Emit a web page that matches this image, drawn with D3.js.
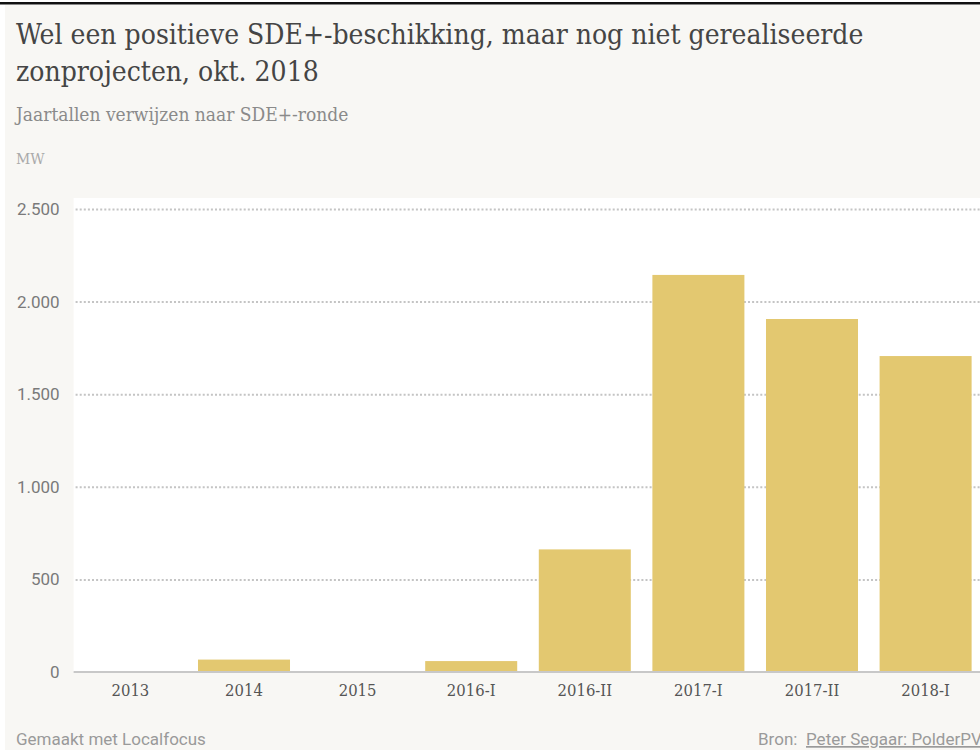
<!DOCTYPE html>
<html>
<head>
<meta charset="utf-8">
<script src="https://cdn.jsdelivr.net/npm/d3@7"></script>
<style>
    html, body { margin: 0; padding: 0; background: #fff; overflow: hidden; }
    svg { display: block; }
</style>
</head>
<body>
<div id="chart"></div>
<script>
// rondes en beschikt vermogen (MW)
var rondes = ["2013", "2014", "2015", "2016-I", "2016-II", "2017-I", "2017-II", "2018-I"];
var megawatt = [0, 67, 0, 59, 662, 2144, 1906, 1706];
var yTicks = [0, 500, 1000, 1500, 2000, 2500];

var width = 980, height = 750;
var serif = "'DejaVu Serif Condensed', 'DejaVu Serif', serif";
var sans = "Roboto, 'Noto Sans', sans-serif";

var nl = d3.formatLocale({ decimal: ",", thousands: ".", grouping: [3], currency: ["€", ""] });
var fmt = nl.format(",d");

var svg = d3.select("#chart").append("svg")
    .attr("width", width)
    .attr("height", height);

// achtergrond + zwarte rand bovenaan
svg.append("rect").attr("x", 0).attr("y", 2).attr("width", width).attr("height", 2.5).attr("fill", "#111");
svg.append("rect").attr("x", 5).attr("y", 5).attr("width", width - 5).attr("height", height - 5).attr("fill", "#f8f7f4");

// titels
var title = svg.append("text")
    .attr("x", 16).attr("y", 44)
    .attr("font-family", serif).attr("font-size", 28).attr("fill", "#454545");
title.append("tspan").attr("x", 16).text("Wel een positieve SDE+-beschikking, maar nog niet gerealiseerde");
title.append("tspan").attr("x", 16).attr("dy", 37).text("zonprojecten, okt. 2018");

svg.append("text")
    .attr("x", 16).attr("y", 121)
    .attr("font-family", serif).attr("font-size", 19).attr("fill", "#8a8a8a")
    .text("Jaartallen verwijzen naar SDE+-ronde");

svg.append("text")
    .attr("x", 16).attr("y", 164)
    .attr("font-family", serif).attr("font-size", 15.5).attr("fill", "#aaa")
    .text("MW");

var plot = { left: 73.6, top: 198, bottom: 672 };

var x = d3.scaleBand()
    .domain(rondes)
    .range([plot.left, 982.4])
    .paddingInner(0.19)
    .paddingOuter(0.095);

var y = d3.scaleLinear()
    .domain([0, 2500])
    .range([plot.bottom, 209]);

// wit plotvlak
svg.append("rect")
    .attr("x", plot.left).attr("y", plot.top)
    .attr("width", width - plot.left).attr("height", plot.bottom - plot.top)
    .attr("fill", "#fff");

// y-as met gestippelde rasterlijnen
var yAxis = svg.append("g")
    .attr("transform", "translate(" + plot.left + ",0)")
    .call(d3.axisLeft(y).tickValues(yTicks).tickFormat(fmt).tickSize(0).tickPadding(14));
yAxis.select(".domain").remove();
yAxis.selectAll("text")
    .attr("font-family", sans).attr("font-size", 17).attr("fill", "#7a7a7a");
yAxis.selectAll(".tick").filter(function (d) { return d > 0; })
    .append("line")
    .attr("x1", 2).attr("x2", width - plot.left)
    .attr("stroke", "#c4c4c4").attr("stroke-width", 2)
    .attr("stroke-dasharray", "2,2.1");

// staven
svg.append("g")
    .selectAll("rect")
    .data(rondes)
    .enter().append("rect")
    .attr("x", function (d) { return x(d); })
    .attr("width", x.bandwidth())
    .attr("y", function (d, i) { return y(megawatt[i]); })
    .attr("height", function (d, i) { return y(0) - y(megawatt[i]); })
    .attr("fill", "#e3c870");

// x-as
var xAxis = svg.append("g")
    .attr("transform", "translate(0," + plot.bottom + ")")
    .call(d3.axisBottom(x).tickSize(0).tickPadding(12));
xAxis.select(".domain")
    .attr("d", "M" + plot.left + ",0H" + width)
    .attr("stroke", "#c8c8c8").attr("stroke-width", 2);
xAxis.selectAll("text")
    .attr("font-family", serif).attr("font-size", 16.5).attr("fill", "#555");

// voetregel
svg.append("text")
    .attr("x", 16).attr("y", 745)
    .attr("font-family", sans).attr("font-size", 17).attr("fill", "#9a9a9a")
    .text("Gemaakt met Localfocus");

var bron = svg.append("text")
    .attr("x", 758).attr("y", 745)
    .attr("font-family", sans).attr("font-size", 17).attr("fill", "#9a9a9a");
bron.append("tspan").text("Bron: ");
bron.append("tspan").attr("x", 806).attr("text-decoration", "underline").text("Peter Segaar: PolderPV");
</script>
</body>
</html>
